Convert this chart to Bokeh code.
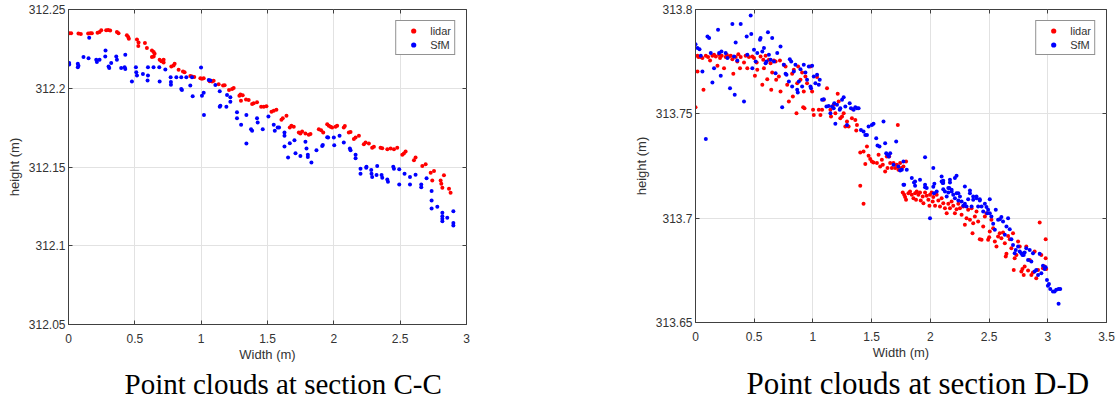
from bokeh.plotting import figure
from bokeh.models import FixedTicker, LinearAxis, Title, Range1d, Legend, LegendItem
from bokeh.layouts import row
from bokeh.embed import file_html
from bokeh.resources import INLINE

# ---------------- data: section C-C ----------------
cc_lidar = [(0.005,312.235),(0.02,312.235),(0.075,312.2347),(0.093,312.2345),(0.148,312.2347),(0.164,312.235),(0.176,312.235),(0.219,312.2353),(0.234,312.2357),(0.247,312.2368),(0.284,312.2368),(0.299,312.237),(0.314,312.2366),(0.365,312.2357),(0.377,312.235),(0.44,312.2336),(0.45,312.2325),(0.455,312.2315),(0.516,312.2309),(0.528,312.2291),(0.526,312.2268),(0.576,312.2287),(0.591,312.2255),(0.629,312.224),(0.642,312.223),(0.649,312.2219),(0.629,312.2198),(0.642,312.2202),(0.687,312.2181),(0.70,312.2172),(0.717,312.2164),(0.717,312.2181),(0.775,312.2138),(0.792,312.2145),(0.80,312.2155),(0.83,312.2117),(0.863,312.2106),(0.875,312.2102),(0.918,312.2077),(0.931,312.2074),(0.948,312.2072),(0.994,312.2064),(1.006,312.206),(1.019,312.2064),(1.064,312.2045),(1.082,312.2043),(1.094,312.2047),(1.132,312.2026),(1.165,312.2017),(1.177,312.2019),(1.21,312.1989),(1.233,312.1996),(1.245,312.2002),(1.288,312.1953),(1.296,312.196),(1.313,312.1955),(1.30,312.1921),(1.338,312.1928),(1.358,312.1926),(1.384,312.19),(1.396,312.1904),(1.421,312.1911),(1.452,312.1883),(1.472,312.1883),(1.492,312.1885),(1.53,312.1851),(1.547,312.1857),(1.567,312.1864),(1.605,312.18),(1.615,312.1809),(1.643,312.1826),(1.668,312.1751),(1.68,312.1762),(1.698,312.1755),(1.736,312.1719),(1.748,312.1713),(1.761,312.1726),(1.786,312.1713),(1.811,312.1704),(1.824,312.1709),(1.887,312.174),(1.904,312.1734),(1.92,312.1719),(1.95,312.1772),(1.962,312.1762),(1.975,312.1755),(1.987,312.1751),(2.013,312.1755),(2.025,312.1762),(2.075,312.1751),(2.083,312.176),(2.113,312.1719),(2.126,312.1723),(2.151,312.1677),(2.164,312.1687),(2.189,312.1698),(2.226,312.1645),(2.239,312.1655),(2.264,312.1649),(2.289,312.1623),(2.302,312.1628),(2.352,312.1623),(2.365,312.1619),(2.403,312.1613),(2.428,312.1617),(2.453,312.1613),(2.478,312.1623),(2.516,312.1577),(2.528,312.1585),(2.541,312.1598),(2.604,312.1543),(2.616,312.156),(2.667,312.1506),(2.692,312.1517),(2.73,312.1464),(2.742,312.1415),(2.755,312.1474),(2.805,312.1415),(2.81,312.1394),(2.83,312.1447),(2.868,312.1362),(2.88,312.1336),(2.818,312.1368)]

cc_sfm = [(0.005,312.216),(0.005,312.2151),(0.07,312.2155),(0.07,312.2134),(0.075,312.2143),(0.113,312.2198),(0.151,312.2191),(0.156,312.2321),(0.209,312.2181),(0.214,312.2166),(0.234,312.2181),(0.277,312.2202),(0.279,312.224),(0.302,312.2138),(0.307,312.2128),(0.322,312.216),(0.36,312.2202),(0.365,312.2181),(0.397,312.2128),(0.423,312.2134),(0.428,312.2123),(0.428,312.2213),(0.478,312.2043),(0.508,312.2134),(0.511,312.2102),(0.516,312.2081),(0.561,312.2091),(0.596,312.2049),(0.599,312.2081),(0.599,312.2134),(0.641,312.2134),(0.684,312.2134),(0.687,312.2043),(0.73,312.2119),(0.77,312.207),(0.772,312.204),(0.772,312.2023),(0.813,312.207),(0.85,312.207),(0.85,312.1996),(0.855,312.1989),(0.888,312.207),(0.918,312.2017),(0.931,312.207),(0.936,312.1949),(0.999,312.2132),(1.006,312.1953),(1.019,312.1972),(1.021,312.183),(1.057,312.2053),(1.069,312.2049),(1.107,312.2021),(1.14,312.1981),(1.14,312.1883),(1.145,312.1889),(1.19,312.1883),(1.195,312.1957),(1.22,312.1943),(1.22,312.1915),(1.27,312.1847),(1.27,312.1809),(1.301,312.1768),(1.341,312.183),(1.341,312.1649),(1.376,312.174),(1.384,312.173),(1.421,312.1809),(1.426,312.1783),(1.464,312.174),(1.507,312.1821),(1.547,312.1768),(1.555,312.173),(1.577,312.1751),(1.587,312.1751),(1.628,312.1719),(1.628,312.1698),(1.628,312.163),(1.655,312.156),(1.668,312.1651),(1.703,312.167),(1.711,312.1587),(1.748,312.157),(1.786,312.166),(1.794,312.1617),(1.804,312.1577),(1.804,312.1564),(1.831,312.1528),(1.869,312.1606),(1.912,312.1634),(1.917,312.164),(1.95,312.1689),(1.957,312.1687),(2.0,312.1687),(2.003,312.1638),(2.043,312.1698),(2.075,312.1655),(2.121,312.1617),(2.126,312.1606),(2.164,312.1577),(2.164,312.1555),(2.201,312.1489),(2.201,312.1457),(2.244,312.1496),(2.246,312.1502),(2.282,312.1481),(2.284,312.1457),(2.289,312.1436),(2.322,312.1449),(2.327,312.1506),(2.36,312.1449),(2.365,312.1432),(2.403,312.1421),(2.408,312.1406),(2.448,312.1502),(2.453,312.1489),(2.493,312.1485),(2.493,312.1389),(2.533,312.1457),(2.574,312.1436),(2.574,312.1389),(2.616,312.1451),(2.659,312.1389),(2.659,312.1372),(2.699,312.1428),(2.737,312.1347),(2.737,312.1287),(2.737,312.1236),(2.78,312.1247),(2.818,312.1209),(2.818,312.1187),(2.818,312.1172),(2.818,312.1155),(2.855,312.1177),(2.901,312.1219),(2.901,312.1145),(2.901,312.1128)]

# ---------------- data: section D-D ----------------
dd_lidar = [(0.0,313.7532),(0.017,313.7703),(0.025,313.7772),(0.017,313.7778),(0.045,313.7772),(0.059,313.7767),(0.068,313.7615),(0.088,313.7778),(0.107,313.7772),(0.124,313.7756),(0.144,313.7778),(0.158,313.7783),(0.173,313.7775),(0.187,313.773),(0.201,313.7783),(0.209,313.7767),(0.223,313.7778),(0.243,313.7719),(0.257,313.7772),(0.266,313.7783),(0.286,313.7775),(0.3,313.7778),(0.314,313.7762),(0.322,313.7692),(0.342,313.7772),(0.356,313.7751),(0.365,313.7786),(0.379,313.7719),(0.385,313.7772),(0.413,313.7746),(0.427,313.7778),(0.441,313.7719),(0.455,313.7772),(0.484,313.7775),(0.498,313.7767),(0.506,313.7682),(0.521,313.7746),(0.526,313.7711),(0.554,313.7775),(0.569,313.7639),(0.577,313.7759),(0.583,313.7719),(0.597,313.7778),(0.611,313.7666),(0.625,313.7759),(0.639,313.7743),(0.645,313.7615),(0.653,313.7698),(0.668,313.7756),(0.682,313.7751),(0.687,313.7663),(0.71,313.7679),(0.719,313.7756),(0.724,313.7607),(0.752,313.7735),(0.767,313.7727),(0.781,313.7639),(0.795,313.7559),(0.823,313.7692),(0.829,313.7583),(0.837,313.7711),(0.86,313.7503),(0.866,313.7647),(0.874,313.7727),(0.894,313.7663),(0.908,313.7698),(0.917,313.7532),(0.922,313.7607),(0.928,313.7527),(0.936,313.7679),(0.95,313.7647),(0.979,313.7727),(0.993,313.7607),(1.001,313.7519),(1.007,313.7495),(1.035,313.7676),(1.05,313.7519),(1.064,313.7495),(1.078,313.7519),(1.092,313.7567),(1.12,313.7623),(1.149,313.7519),(1.154,313.7487),(1.177,313.7543),(1.191,313.7503),(1.211,313.7596),(1.219,313.7559),(1.233,313.7479),(1.248,313.7487),(1.262,313.7503),(1.276,313.7439),(1.29,313.7463),(1.304,313.7439),(1.332,313.7479),(1.341,313.7522),(1.361,313.7471),(1.369,313.742),(1.375,313.7447),(1.403,313.7315),(1.431,313.732),(1.446,313.726),(1.46,313.7343),(1.474,313.7299),(1.488,313.7283),(1.502,313.7272),(1.516,313.7267),(1.545,313.7264),(1.559,313.7304),(1.573,313.7248),(1.587,313.728),(1.595,313.7256),(1.615,313.7224),(1.629,313.7296),(1.635,313.724),(1.649,313.7296),(1.658,313.7264),(1.672,313.724),(1.686,313.7264),(1.7,313.724),(1.714,313.7256),(1.723,313.7447),(1.728,313.7232),(1.743,313.7264),(1.757,313.724),(1.771,313.7248),(1.793,313.7272),(1.403,313.7155),(1.431,313.7069),(1.765,313.7123),(1.777,313.7112),(1.785,313.7101),(1.793,313.7088),(1.813,313.712),(1.827,313.7128),(1.842,313.7112),(1.856,313.7096),(1.87,313.712),(1.878,313.7088),(1.884,313.7128),(1.898,313.7112),(1.912,313.7123),(1.918,313.7085),(1.935,313.7104),(1.941,313.7072),(1.955,313.7123),(1.969,313.7107),(1.983,313.7088),(1.992,313.7059),(1.997,313.7112),(2.011,313.7123),(2.02,313.708),(2.025,313.7101),(2.04,313.7059),(2.054,313.7112),(2.068,313.7085),(2.082,313.7056),(2.096,313.7096),(2.11,313.7072),(2.124,313.7048),(2.139,313.7024),(2.153,313.7069),(2.167,313.7048),(2.181,313.708),(2.195,313.7059),(2.209,313.7024),(2.223,313.7043),(2.238,313.7069),(2.252,313.7048),(2.266,313.7016),(2.28,313.7056),(2.294,313.6968),(2.308,313.7),(2.322,313.704),(2.337,313.6992),(2.351,313.7048),(2.359,313.6928),(2.365,313.6976),(2.379,313.7008),(2.393,313.7032),(2.407,313.6984),(2.421,313.6899),(2.436,313.6896),(2.45,313.696),(2.464,313.7008),(2.478,313.7024),(2.492,313.6896),(2.501,313.6909),(2.506,313.6936),(2.52,313.6992),(2.535,313.6952),(2.549,313.6888),(2.563,313.6864),(2.577,313.6912),(2.591,313.6928),(2.605,313.6904),(2.619,313.6931),(2.634,313.688),(2.642,313.6816),(2.648,313.6829),(2.662,313.6915),(2.676,313.6899),(2.69,313.6856),(2.704,313.6928),(2.71,313.6752),(2.718,313.6808),(2.733,313.6824),(2.747,313.6888),(2.761,313.6864),(2.775,313.6744),(2.784,313.6756),(2.795,313.6728),(2.803,313.6768),(2.817,313.6864),(2.832,313.6749),(2.846,313.68),(2.86,313.6728),(2.874,313.674),(2.888,313.684),(2.902,313.6712),(2.917,313.6752),(2.931,313.6979),(2.945,313.6824),(2.959,313.676),(2.973,313.6768),(2.982,313.6899),(2.982,313.6808),(2.987,313.6756)]

dd_sfm = [(0.0,313.7834),(0.017,313.7815),(0.034,313.781),(0.045,313.7778),(0.059,313.7703),(0.088,313.7379),(0.102,313.7871),(0.116,313.7863),(0.13,313.7791),(0.144,313.765),(0.158,313.7719),(0.192,313.7903),(0.201,313.7791),(0.215,313.7682),(0.221,313.7799),(0.257,313.7791),(0.272,313.7767),(0.294,313.7623),(0.314,313.7931),(0.328,313.7775),(0.334,313.7591),(0.342,313.7842),(0.356,313.7756),(0.385,313.7931),(0.413,313.7559),(0.436,313.7871),(0.441,313.7783),(0.47,313.7971),(0.475,313.7883),(0.484,313.7719),(0.498,313.7807),(0.512,313.7751),(0.526,313.7791),(0.549,313.7855),(0.554,313.7863),(0.569,313.7799),(0.583,313.7815),(0.597,313.7743),(0.605,313.7751),(0.617,313.7891),(0.625,313.7783),(0.639,313.7759),(0.653,313.7863),(0.668,313.7751),(0.682,313.7695),(0.696,313.7791),(0.724,313.7823),(0.738,313.7532),(0.752,313.7735),(0.767,313.7692),(0.775,313.7687),(0.795,313.7655),(0.803,313.7762),(0.815,313.7751),(0.823,313.7631),(0.837,313.7703),(0.851,313.7735),(0.866,313.7615),(0.871,313.7602),(0.88,313.7655),(0.894,313.7714),(0.908,313.7631),(0.922,313.7735),(0.936,313.7698),(0.95,313.7663),(0.965,313.7727),(0.979,313.7631),(0.984,313.7623),(0.993,313.773),(1.007,313.7679),(1.021,313.7647),(1.035,313.7687),(1.05,313.7639),(1.058,313.7663),(1.078,313.7567),(1.092,313.757),(1.115,313.7535),(1.134,313.7538),(1.149,313.7503),(1.163,313.7535),(1.177,313.7527),(1.182,313.7551),(1.191,313.7452),(1.205,313.7543),(1.228,313.7519),(1.233,313.7527),(1.248,313.7567),(1.262,313.758),(1.276,313.7535),(1.29,313.7447),(1.313,313.7551),(1.324,313.7527),(1.347,313.7519),(1.361,313.7532),(1.375,313.7527),(1.389,313.7527),(1.409,313.7423),(1.431,313.7415),(1.446,313.7399),(1.46,313.7399),(1.474,313.7439),(1.502,313.7447),(1.516,313.7452),(1.539,313.7383),(1.55,313.7348),(1.567,313.7343),(1.601,313.7463),(1.615,313.7359),(1.624,313.7311),(1.635,313.7304),(1.646,313.7296),(1.658,313.7311),(1.686,313.7256),(1.709,313.7367),(1.728,313.7248),(1.743,313.7228),(1.757,313.7232),(1.771,313.7272),(1.777,313.716),(1.799,313.7232),(1.842,313.7192),(1.87,313.7176),(1.912,313.7184),(1.955,313.7292),(1.955,313.716),(1.969,313.7144),(2.025,313.724),(2.031,313.712),(2.096,313.72),(2.11,313.7179),(2.11,313.7168),(2.153,313.7144),(2.167,313.7184),(2.181,313.7128),(2.209,313.7192),(2.223,313.7203),(2.238,313.712),(2.252,313.7104),(2.294,313.7152),(2.337,313.7133),(2.365,313.7104),(2.393,313.7096),(2.421,313.7091),(2.506,313.7091),(1.771,313.716),(1.861,313.7171),(1.87,313.7155),(1.955,313.7148),(1.997,313.7),(2.025,313.715),(2.034,313.7165),(2.054,313.7128),(2.096,313.7176),(2.105,313.7168),(2.11,313.7139),(2.124,313.7128),(2.139,313.7104),(2.153,313.7123),(2.161,313.7144),(2.167,313.7171),(2.181,313.7136),(2.195,313.7112),(2.209,313.7096),(2.223,313.712),(2.238,313.7085),(2.266,313.708),(2.28,313.7059),(2.294,313.7069),(2.308,313.7056),(2.322,313.7091),(2.337,313.712),(2.351,313.7056),(2.365,313.7088),(2.393,313.7104),(2.407,313.7056),(2.421,313.7085),(2.436,313.7056),(2.45,313.7032),(2.464,313.7069),(2.478,313.7053),(2.484,313.7024),(2.492,313.704),(2.506,313.7024),(2.52,313.7008),(2.535,313.6973),(2.549,313.6944),(2.557,313.704),(2.577,313.6992),(2.591,313.6995),(2.605,313.7005),(2.619,313.6984),(2.634,313.692),(2.648,313.696),(2.662,313.7),(2.676,313.6947),(2.69,313.6899),(2.704,313.6872),(2.718,313.6832),(2.727,313.6848),(2.747,313.6864),(2.761,313.684),(2.775,313.6832),(2.784,313.6824),(2.795,313.6824),(2.803,313.6836),(2.817,313.6856),(2.832,313.68),(2.846,313.6848),(2.86,313.6792),(2.874,313.6832),(2.888,313.6744),(2.902,313.6752),(2.917,313.6728),(2.931,313.6829),(2.945,313.6736),(2.959,313.6772),(2.973,313.6756),(2.982,313.6765),(2.993,313.6704),(3.001,313.6676),(3.01,313.6685),(3.021,313.666),(3.044,313.6649),(3.058,313.6649),(3.072,313.6657),(3.092,313.666),(3.106,313.666),(3.092,313.659)]

# ---------------- axes / labels ----------------
cc_x_ticks = [0, 0.5, 1, 1.5, 2, 2.5, 3]
cc_x_labels = ["0", "0.5", "1", "1.5", "2", "2.5", "3"]
cc_y_ticks = [312.05, 312.1, 312.15, 312.2, 312.25]
cc_y_labels = ["312.05", "312.1", "312.15", "312.2", "312.25"]
dd_x_ticks = [0, 0.5, 1, 1.5, 2, 2.5, 3, 3.5]
dd_x_labels = ["0", "0.5", "1", "1.5", "2", "2.5", "3", "3.5"]
dd_y_ticks = [313.65, 313.7, 313.75, 313.8]
dd_y_labels = ["313.65", "313.7", "313.75", "313.8"]
series_names = ["lidar", "SfM"]
series_colors = ["#ff0000", "#0000ff"]
x_title = "Width (m)"
y_title = "height (m)"
captions = ["Point clouds at section C-C", "Point clouds at section D-D"]

AX = "#404040"
TXT = "#333333"
SANS = "Liberation Sans"


def mirror_axis(ticks):
    # tick marks only (box style): labels are not drawn
    return LinearAxis(ticker=FixedTicker(ticks=ticks), major_label_text_font_size="1px",
                      major_label_text_color=None, major_label_standoff=0,
                      major_tick_in=4, major_tick_out=0,
                      minor_tick_line_color=None, axis_line_color=None,
                      major_tick_line_color=AX)


def make_panel(lidar, sfm, xr, yr, xt, xl, yt, yl, caption, mb_right, fw, fh,
               cap_offset, cap_size):
    p = figure(output_backend="svg", toolbar_location=None, frame_width=fw, frame_height=fh,
               x_range=Range1d(*xr), y_range=Range1d(*yr),
               min_border_left=68, min_border_right=mb_right, min_border_top=9, min_border_bottom=0,
               background_fill_color="white", border_fill_color="white")
    p.outline_line_color = AX
    p.outline_line_width = 1
    p.grid.grid_line_color = "#e2e2e2"
    p.xaxis.ticker = FixedTicker(ticks=xt)
    p.yaxis.ticker = FixedTicker(ticks=yt)
    p.xgrid.ticker = FixedTicker(ticks=xt)
    p.ygrid.ticker = FixedTicker(ticks=yt)
    p.xaxis.major_label_overrides = dict(zip(xt, xl))
    p.yaxis.major_label_overrides = dict(zip(yt, yl))
    for ax in (p.xaxis, p.yaxis):
        ax.axis_line_color = AX
        ax.major_tick_line_color = AX
        ax.major_tick_in = 4
        ax.major_tick_out = 0
        ax.minor_tick_line_color = None
        ax.major_label_text_font = SANS
        ax.major_label_text_font_size = "12px"
        ax.major_label_text_color = TXT
        ax.axis_label_text_font = SANS
        ax.axis_label_text_font_size = "13px"
        ax.axis_label_text_font_style = "normal"
        ax.axis_label_text_color = TXT
    p.xaxis.axis_label = x_title
    p.yaxis.axis_label = y_title
    p.xaxis.major_label_standoff = 9
    p.xaxis.axis_label_standoff = 1
    p.yaxis.major_label_standoff = 3
    p.yaxis.axis_label_standoff = 4
    p.add_layout(mirror_axis(yt), "right")
    p.add_layout(mirror_axis(xt), "above")

    w1, h1 = zip(*lidar)
    w2, h2 = zip(*sfm)
    r1 = p.scatter(list(w1), list(h1), size=4, fill_color=series_colors[0], line_color=None)
    r2 = p.scatter(list(w2), list(h2), size=4, fill_color=series_colors[1], line_color=None)
    legend = Legend(items=[LegendItem(label=series_names[0], renderers=[r1]),
                           LegendItem(label=series_names[1], renderers=[r2])],
                    location="top_right", margin=11, padding=3, spacing=1,
                    glyph_width=28, glyph_height=13, label_height=13, label_standoff=3,
                    label_text_font=SANS, label_text_font_size="11px", label_text_color=TXT,
                    border_line_color="#262626", border_line_width=1,
                    background_fill_color="white", background_fill_alpha=1)
    p.add_layout(legend, "center")
    p.add_layout(Title(text=caption, align="left", offset=cap_offset, text_font="Liberation Serif",
                       text_font_size=cap_size, text_font_style="normal", text_color="black",
                       standoff=2), "below")
    return p


p1 = make_panel(cc_lidar, cc_sfm, (0, 3), (312.05, 312.25), cc_x_ticks, cc_x_labels,
                cc_y_ticks, cc_y_labels, captions[0], 161, 398, 315, 56, "29px")
p2 = make_panel(dd_lidar, dd_sfm, (0, 3.5), (313.65, 313.8), dd_x_ticks, dd_x_labels,
                dd_y_ticks, dd_y_labels, captions[1], 9, 411, 313, 51, "31px")

layout = row(p1, p2)
open("out.html", "w").write(file_html(layout, INLINE))
